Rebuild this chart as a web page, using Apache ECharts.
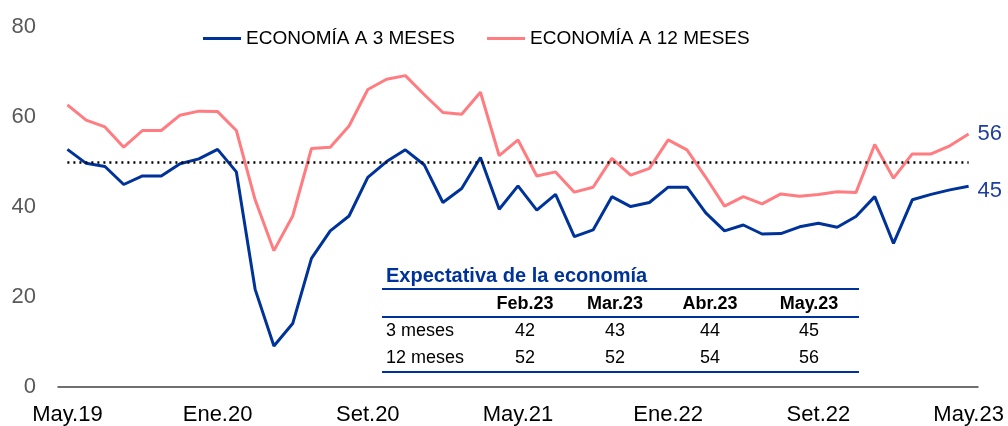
<!DOCTYPE html>
<html>
<head>
<meta charset="utf-8">
<script src="https://cdn.jsdelivr.net/npm/echarts@6/dist/echarts.min.js"></script>
<style>
  html, body { margin: 0; padding: 0; background: #fff; }
  #chart { width: 1008px; height: 426px; }
</style>
</head>
<body>
<div id="chart"></div>
<script>
// meses de may.19 a may.23
const months = ["Ene", "Feb", "Mar", "Abr", "May", "Jun", "Jul", "Ago", "Set", "Oct", "Nov", "Dic"];
const categories = [];
for (let y = 19, m = 4; y < 23 || (y === 23 && m <= 4); m++) {
  if (m === 12) { m = 0; y++; }
  categories.push(months[m] + "." + y);
}

const eco3m = [
  52.8, 49.7, 49.0, 45.0, 46.9, 46.9, 49.6, 50.7, 52.8, 47.8,
  21.7, 9.1, 14.1, 28.6, 34.7, 38.0, 46.6, 50.1, 52.7, 49.4,
  41.0, 44.1, 51.0, 39.5, 44.7, 39.3, 42.8, 33.4, 34.9,
  42.3, 40.1, 41.0, 44.4, 44.4, 38.7, 34.7, 36.0, 34.0, 34.1,
  35.6, 36.4, 35.5, 37.9, 42.3, 31.9, 41.6, 42.8, 43.8, 44.6
];
const eco12m = [
  62.7, 59.3, 57.8, 53.3, 57.0, 57.0, 60.4, 61.3, 61.2, 57.0,
  41.6, 30.3, 38.0, 53.0, 53.3, 58.0, 66.1, 68.4, 69.2, 65.0,
  61.0, 60.6, 65.5, 51.4, 54.9, 46.9, 47.8, 43.3, 44.4,
  50.8, 47.1, 48.6, 54.9, 52.7, 46.6, 40.2, 42.3, 40.7, 42.9,
  42.4, 42.8, 43.4, 43.2, 53.9, 46.4, 51.8, 51.8, 53.6, 56.2
];
const seriesNames = ["ECONOMÍA A 3 MESES", "ECONOMÍA A 12 MESES"];
const endLabels = ["45", "56"];
const threshold = 50;

// tabla
const tableTitle = "Expectativa de la economía";
const tableCols = ["Feb.23", "Mar.23", "Abr.23", "May.23"];
const tableRows = ["3 meses", "12 meses"];
const table3m = [42, 43, 44, 45];
const table12m = [52, 52, 54, 56];

const blue = "#003399";
const pink = "#FF7C80";
const font = "Liberation Sans, Arial, sans-serif";

let myChart = echarts.init(document.getElementById("chart"));

// elementos de la tabla
let graphics = [];
let colX = [525, 615, 710, 809];
let tLeft = 382, tRight = 859;
graphics.push({ type: "text", x: 386, y: 276, style: { text: tableTitle, fill: blue, font: "bold 20px " + font, verticalAlign: "middle" } });
[289, 317, 372].forEach(y => {
  graphics.push({ type: "line", shape: { x1: tLeft, y1: y, x2: tRight, y2: y }, style: { stroke: blue, lineWidth: 2 } });
});
tableCols.forEach((c, i) => {
  graphics.push({ type: "text", x: colX[i], y: 304, style: { text: c, fill: "#000", font: "bold 18px " + font, align: "center", verticalAlign: "middle" } });
});
[table3m, table12m].forEach((row, r) => {
  let y = r === 0 ? 331 : 358;
  graphics.push({ type: "text", x: 386, y: y, style: { text: tableRows[r], fill: "#000", font: "18px " + font, verticalAlign: "middle" } });
  row.forEach((v, i) => {
    graphics.push({ type: "text", x: colX[i], y: y, style: { text: String(v), fill: "#000", font: "18px " + font, align: "center", verticalAlign: "middle" } });
  });
});

let option = {
  animation: false,
  textStyle: { fontFamily: font },
  legend: {
    left: 198,
    top: 24,
    icon: "rect",
    itemWidth: 38,
    itemHeight: 3,
    itemGap: 32,
    textStyle: { color: "#000", fontSize: 19, fontFamily: font },
    data: seriesNames
  },
  grid: {
    left: 58,
    right: 30,
    top: 27,
    bottom: 39
  },
  xAxis: {
    type: "category",
    boundaryGap: true,
    data: categories,
    axisTick: { show: false },
    axisLine: { lineStyle: { color: "#404040", width: 1.5 } },
    axisLabel: {
      interval: 7,
      margin: 17,
      color: "#000",
      fontSize: 22,
      fontFamily: font
    }
  },
  yAxis: {
    type: "value",
    min: 0,
    max: 80,
    interval: 20,
    axisLine: { show: false },
    axisTick: { show: false },
    splitLine: { show: false },
    axisLabel: { margin: 22, color: "#595959", fontSize: 22, fontFamily: font }
  },
  series: [
    {
      name: seriesNames[0],
      type: "line",
      data: eco3m,
      symbol: "none",
      lineStyle: { color: blue, width: 3 },
      itemStyle: { color: blue },
      endLabel: {
        show: true,
        formatter: endLabels[0],
        color: "#1F3F9F",
        fontSize: 22,
        fontFamily: font,
        distance: 9,
        offset: [0, 5]
      },
      markLine: {
        silent: true,
        symbol: "none",
        label: { show: false },
        lineStyle: { color: "#000", type: [2, 4], width: 2.5 },
        data: [[
          { coord: [categories[0], threshold] },
          { coord: [categories[categories.length - 1], threshold] }
        ]]
      },
      z: 3
    },
    {
      name: seriesNames[1],
      type: "line",
      data: eco12m,
      symbol: "none",
      lineStyle: { color: pink, width: 3 },
      itemStyle: { color: pink },
      endLabel: {
        show: true,
        formatter: endLabels[1],
        color: "#1F3F9F",
        fontSize: 22,
        fontFamily: font,
        distance: 9
      },
      z: 2
    }
  ],
  graphic: graphics
};
myChart.setOption(option);
window.addEventListener("resize", () => {
  myChart.resize();
});
</script>
</body>
</html>
